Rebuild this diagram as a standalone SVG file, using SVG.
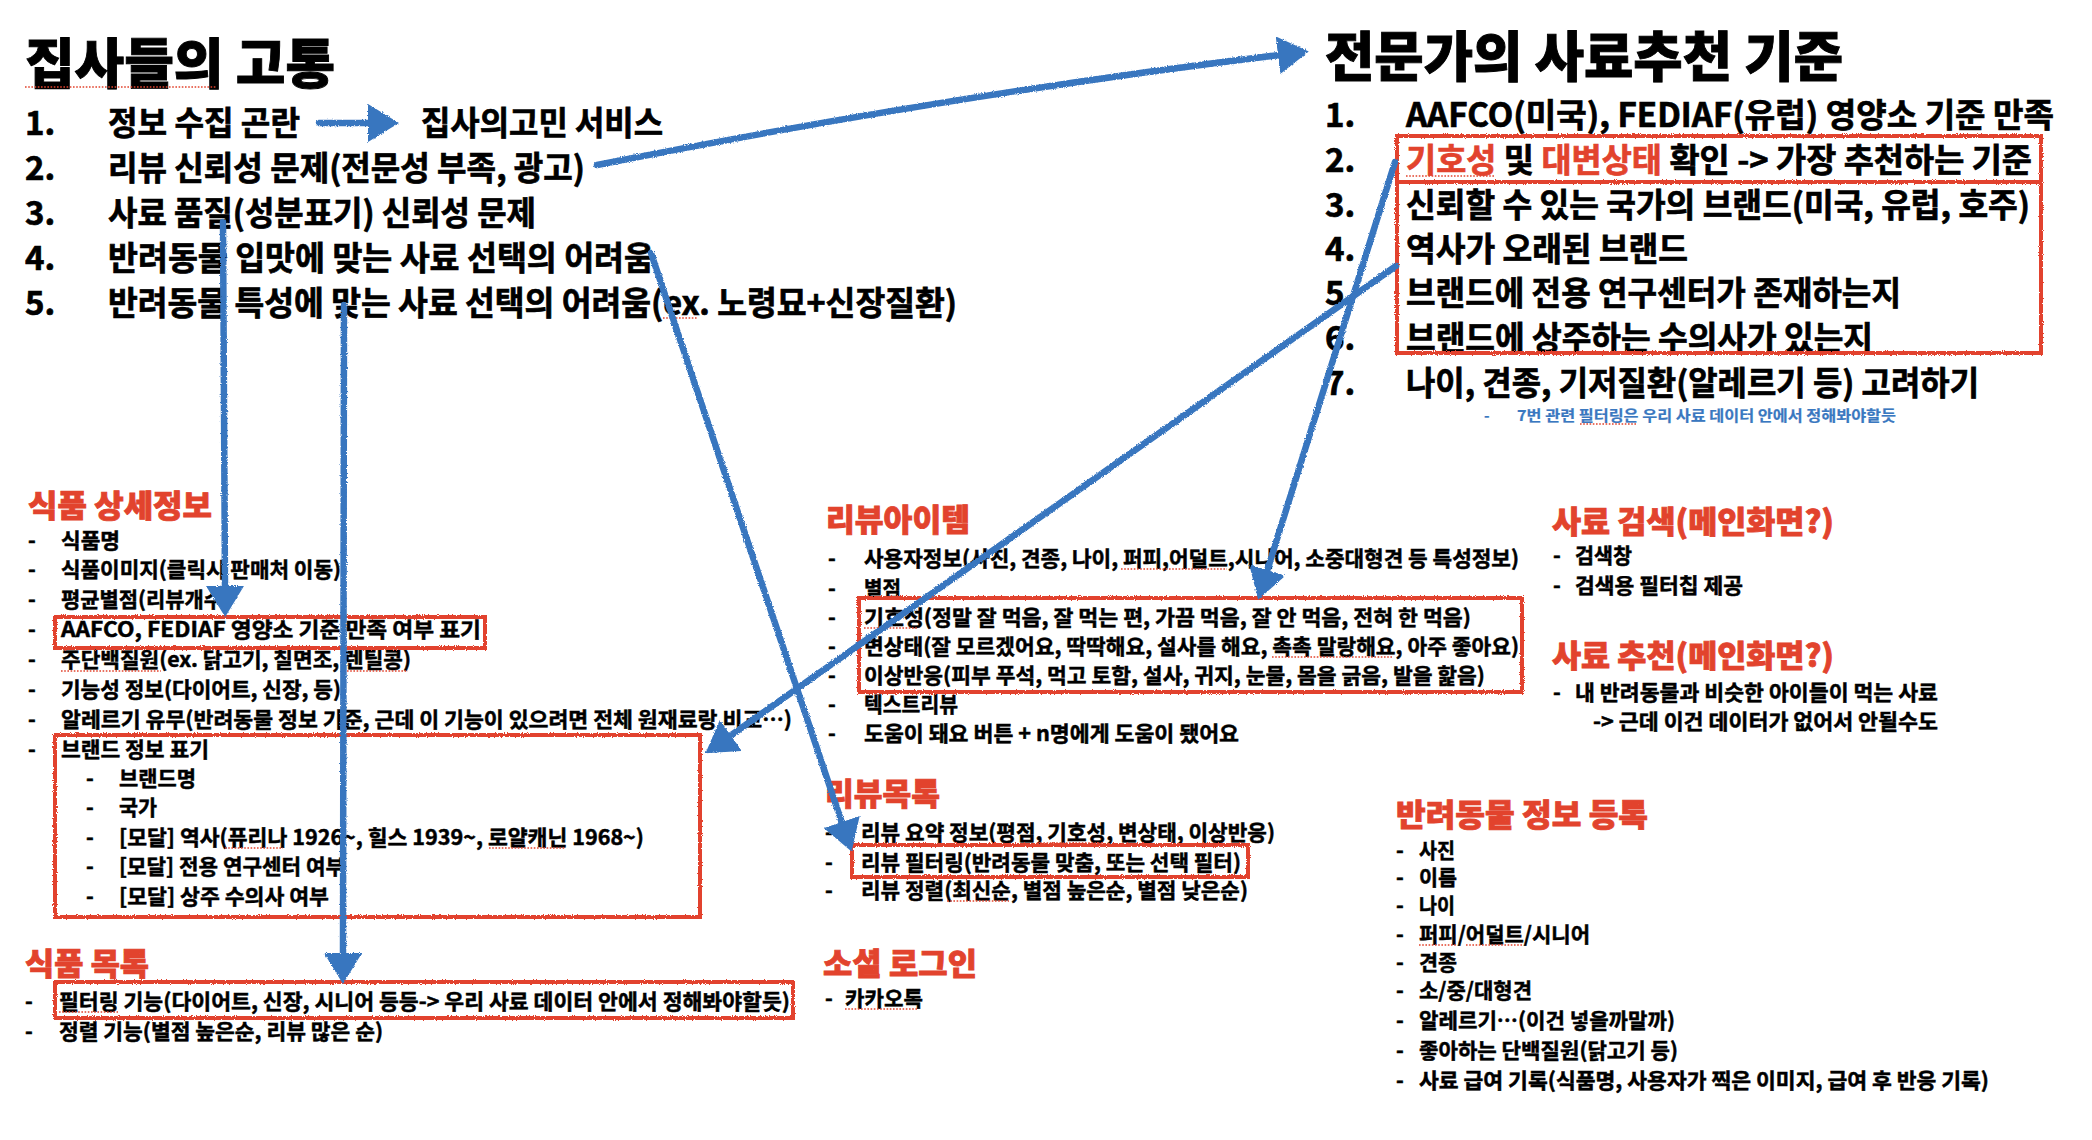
<svg xmlns="http://www.w3.org/2000/svg" width="2092" height="1140" viewBox="0 0 2092 1140">
<style>
text { font-family: "Noto Sans CJK KR", "Noto Sans", sans-serif; font-weight: 700; fill: #000; stroke: #000; stroke-width: 0.5; }
.title { font-size: 54px; font-weight: 900; stroke-width: 0.9; }
.lg { font-size: 33px; stroke-width: 0.7; }
.h { font-size: 31px; font-weight: 900; fill: #e2432d; stroke: #e2432d; stroke-width: 0.8; }
.it { font-size: 21px; }
.red { fill: #e2432d; stroke: #e2432d; }
.note { font-size: 15px; fill: #3a78c0; stroke: #3a78c0; stroke-width: 0.2; }
.box { fill: none; stroke: #e2432d; stroke-width: 4; filter: url(#rough); }
.arrow { fill: none; stroke: #3876bf; stroke-width: 6.5; stroke-linecap: round; marker-end: url(#ah); }
.sq { stroke: #e2432d; stroke-width: 1.6; stroke-dasharray: 1.6 1.6; fill: none; }
</style>
<defs>
<filter id="rough" filterUnits="userSpaceOnUse" x="0" y="0" width="2092" height="1140">
<feTurbulence type="fractalNoise" baseFrequency="0.9" numOctaves="2" seed="4" result="n"/>
<feDisplacementMap in="SourceGraphic" in2="n" scale="3" xChannelSelector="R" yChannelSelector="G"/>
</filter>
<marker id="ah" viewBox="0 0 31 38" refX="1" refY="19" markerWidth="31" markerHeight="38" markerUnits="userSpaceOnUse" orient="auto">
<path d="M0,0 L31,19 L0,38 z" fill="#3876bf"/>
</marker>
</defs>
<rect width="2092" height="1140" fill="#fff"/>

<g id="pain-points">
<text class="title" x="25" y="84" textLength="310" lengthAdjust="spacingAndGlyphs">집사들의 고통</text>
<text class="lg" x="25" y="135">1.</text>
<text class="lg" x="108" y="135" textLength="192" lengthAdjust="spacingAndGlyphs">정보 수집 곤란</text>
<text class="lg" x="25" y="180">2.</text>
<text class="lg" x="108" y="180" textLength="477" lengthAdjust="spacingAndGlyphs">리뷰 신뢰성 문제(전문성 부족, 광고)</text>
<text class="lg" x="25" y="225">3.</text>
<text class="lg" x="108" y="225" textLength="428" lengthAdjust="spacingAndGlyphs">사료 품질(성분표기) 신뢰성 문제</text>
<text class="lg" x="25" y="270">4.</text>
<text class="lg" x="108" y="270" textLength="546" lengthAdjust="spacingAndGlyphs">반려동물 입맛에 맞는 사료 선택의 어려움</text>
<text class="lg" x="25" y="315">5.</text>
<text class="lg" x="108" y="315" textLength="849" lengthAdjust="spacingAndGlyphs">반려동물 특성에 맞는 사료 선택의 어려움(ex. 노령묘+신장질환)</text>
</g>

<g id="service">
<text class="lg" x="421" y="135" textLength="242" lengthAdjust="spacingAndGlyphs">집사의고민 서비스</text>
</g>

<g id="expert-criteria">
<text class="title" x="1325" y="77" textLength="518" lengthAdjust="spacingAndGlyphs">전문가의 사료추천 기준</text>
<text class="lg" x="1325" y="127">1.</text>
<text class="lg" x="1406" y="127" textLength="648" lengthAdjust="spacingAndGlyphs">AAFCO(미국), FEDIAF(유럽) 영양소 기준 만족</text>
<text class="lg" x="1325" y="172">2.</text>
<text class="lg" x="1406" y="172" textLength="626" lengthAdjust="spacingAndGlyphs"><tspan class="red">기호성</tspan> 및 <tspan class="red">대변상태</tspan> 확인 -&gt; 가장 추천하는 기준</text>
<text class="lg" x="1325" y="217">3.</text>
<text class="lg" x="1406" y="217" textLength="624" lengthAdjust="spacingAndGlyphs">신뢰할 수 있는 국가의 브랜드(미국, 유럽, 호주)</text>
<text class="lg" x="1325" y="261">4.</text>
<text class="lg" x="1406" y="261" textLength="282" lengthAdjust="spacingAndGlyphs">역사가 오래된 브랜드</text>
<text class="lg" x="1325" y="305">5.</text>
<text class="lg" x="1406" y="305" textLength="495" lengthAdjust="spacingAndGlyphs">브랜드에 전용 연구센터가 존재하는지</text>
<text class="lg" x="1325" y="350">6.</text>
<text class="lg" x="1406" y="350" textLength="467" lengthAdjust="spacingAndGlyphs">브랜드에 상주하는 수의사가 있는지</text>
<text class="lg" x="1325" y="395">7.</text>
<text class="lg" x="1406" y="395" textLength="573" lengthAdjust="spacingAndGlyphs">나이, 견종, 기저질환(알레르기 등) 고려하기</text>
<text class="note" x="1484" y="421">-</text>
<text class="note" x="1517" y="421" textLength="379" lengthAdjust="spacingAndGlyphs">7번 관련 필터링은 우리 사료 데이터 안에서 정해봐야할듯</text>
<rect class="box" x="1397" y="136" width="644" height="46"/>
<rect class="box" x="1397" y="182" width="644" height="171"/>
</g>

<g id="food-detail">
<text class="h" x="28" y="517" textLength="184" lengthAdjust="spacingAndGlyphs">식품 상세정보</text>
<text class="it" x="28" y="548">-</text>
<text class="it" x="61" y="548" textLength="59" lengthAdjust="spacingAndGlyphs">식품명</text>
<text class="it" x="28" y="577">-</text>
<text class="it" x="61" y="577" textLength="280" lengthAdjust="spacingAndGlyphs">식품이미지(클릭시 판매처 이동)</text>
<text class="it" x="28" y="607">-</text>
<text class="it" x="61" y="607" textLength="170" lengthAdjust="spacingAndGlyphs">평균별점(리뷰개수)</text>
<text class="it" x="28" y="637">-</text>
<text class="it" x="61" y="637" textLength="420" lengthAdjust="spacingAndGlyphs">AAFCO, FEDIAF 영양소 기준 만족 여부 표기</text>
<text class="it" x="28" y="667">-</text>
<text class="it" x="61" y="667" textLength="350" lengthAdjust="spacingAndGlyphs">주단백질원(ex. 닭고기, 칠면조, 렌틸콩)</text>
<text class="it" x="28" y="697">-</text>
<text class="it" x="61" y="697" textLength="280" lengthAdjust="spacingAndGlyphs">기능성 정보(다이어트, 신장, 등)</text>
<text class="it" x="28" y="727">-</text>
<text class="it" x="61" y="727" textLength="731" lengthAdjust="spacingAndGlyphs">알레르기 유무(반려동물 정보 기준, 근데 이 기능이 있으려면 전체 원재료랑 비교…)</text>
<text class="it" x="28" y="757">-</text>
<text class="it" x="61" y="757" textLength="148" lengthAdjust="spacingAndGlyphs">브랜드 정보 표기</text>
<text class="it" x="86" y="786">-</text>
<text class="it" x="119" y="786" textLength="77" lengthAdjust="spacingAndGlyphs">브랜드명</text>
<text class="it" x="86" y="815">-</text>
<text class="it" x="119" y="815" textLength="38" lengthAdjust="spacingAndGlyphs">국가</text>
<text class="it" x="86" y="845">-</text>
<text class="it" x="119" y="845" textLength="525" lengthAdjust="spacingAndGlyphs">[모달] 역사(퓨리나 1926~, 힐스 1939~, 로얄캐닌 1968~)</text>
<text class="it" x="86" y="874">-</text>
<text class="it" x="119" y="874" textLength="226" lengthAdjust="spacingAndGlyphs">[모달] 전용 연구센터 여부</text>
<text class="it" x="86" y="904">-</text>
<text class="it" x="119" y="904" textLength="210" lengthAdjust="spacingAndGlyphs">[모달] 상주 수의사 여부</text>
<rect class="box" x="55" y="617" width="430" height="31"/>
<rect class="box" x="55" y="735" width="645" height="182"/>
</g>

<g id="food-list">
<text class="h" x="25" y="975" textLength="124" lengthAdjust="spacingAndGlyphs">식품 목록</text>
<text class="it" x="25" y="1009">-</text>
<text class="it" x="59" y="1009" textLength="731" lengthAdjust="spacingAndGlyphs">필터링 기능(다이어트, 신장, 시니어 등등-&gt; 우리 사료 데이터 안에서 정해봐야할듯)</text>
<text class="it" x="25" y="1039">-</text>
<text class="it" x="59" y="1039" textLength="324" lengthAdjust="spacingAndGlyphs">정렬 기능(별점 높은순, 리뷰 많은 순)</text>
<rect class="box" x="55" y="982" width="738" height="36"/>
</g>

<g id="review-item">
<text class="h" x="826" y="531" textLength="144" lengthAdjust="spacingAndGlyphs">리뷰아이템</text>
<text class="it" x="828" y="566">-</text>
<text class="it" x="864" y="566" textLength="655" lengthAdjust="spacingAndGlyphs">사용자정보(사진, 견종, 나이, 퍼피,어덜트,시니어, 소중대형견 등 특성정보)</text>
<text class="it" x="828" y="596">-</text>
<text class="it" x="864" y="596" textLength="37" lengthAdjust="spacingAndGlyphs">별점</text>
<text class="it" x="828" y="625">-</text>
<text class="it" x="864" y="625" textLength="607" lengthAdjust="spacingAndGlyphs">기호성(정말 잘 먹음, 잘 먹는 편, 가끔 먹음, 잘 안 먹음, 전혀 한 먹음)</text>
<text class="it" x="828" y="654">-</text>
<text class="it" x="864" y="654" textLength="655" lengthAdjust="spacingAndGlyphs">변상태(잘 모르겠어요, 딱딱해요, 설사를 해요, 촉촉 말랑해요, 아주 좋아요)</text>
<text class="it" x="828" y="683">-</text>
<text class="it" x="864" y="683" textLength="621" lengthAdjust="spacingAndGlyphs">이상반응(피부 푸석, 먹고 토함, 설사, 귀지, 눈물, 몸을 긁음, 발을 핥음)</text>
<text class="it" x="828" y="712">-</text>
<text class="it" x="864" y="712" textLength="94" lengthAdjust="spacingAndGlyphs">텍스트리뷰</text>
<text class="it" x="828" y="741">-</text>
<text class="it" x="864" y="741" textLength="375" lengthAdjust="spacingAndGlyphs">도움이 돼요 버튼 + n명에게 도움이 됐어요</text>
<rect class="box" x="859" y="598" width="663" height="94"/>
</g>

<g id="review-list">
<text class="h" x="825" y="805" textLength="115" lengthAdjust="spacingAndGlyphs">리뷰목록</text>
<text class="it" x="825" y="840">-</text>
<text class="it" x="861" y="840" textLength="414" lengthAdjust="spacingAndGlyphs">리뷰 요약 정보(평점, 기호성, 변상태, 이상반응)</text>
<text class="it" x="825" y="870">-</text>
<text class="it" x="861" y="870" textLength="380" lengthAdjust="spacingAndGlyphs">리뷰 필터링(반려동물 맞춤, 또는 선택 필터)</text>
<text class="it" x="825" y="898">-</text>
<text class="it" x="861" y="898" textLength="387" lengthAdjust="spacingAndGlyphs">리뷰 정렬(최신순, 별점 높은순, 별점 낮은순)</text>
<rect class="box" x="852" y="845" width="396" height="32"/>
</g>

<g id="social-login">
<text class="h" x="823" y="975" textLength="154" lengthAdjust="spacingAndGlyphs">소셜 로그인</text>
<text class="it" x="825" y="1006">-</text>
<text class="it" x="845" y="1006" textLength="78" lengthAdjust="spacingAndGlyphs">카카오톡</text>
</g>

<g id="food-search">
<text class="h" x="1552" y="533" textLength="282" lengthAdjust="spacingAndGlyphs">사료 검색(메인화면?)</text>
<text class="it" x="1553" y="563">-</text>
<text class="it" x="1575" y="563" textLength="57" lengthAdjust="spacingAndGlyphs">검색창</text>
<text class="it" x="1553" y="593">-</text>
<text class="it" x="1575" y="593" textLength="168" lengthAdjust="spacingAndGlyphs">검색용 필터칩 제공</text>
</g>

<g id="food-recommend">
<text class="h" x="1552" y="667" textLength="282" lengthAdjust="spacingAndGlyphs">사료 추천(메인화면?)</text>
<text class="it" x="1553" y="700">-</text>
<text class="it" x="1575" y="700" textLength="363" lengthAdjust="spacingAndGlyphs">내 반려동물과 비슷한 아이들이 먹는 사료</text>
<text class="it" x="1593" y="729" textLength="345" lengthAdjust="spacingAndGlyphs">-&gt; 근데 이건 데이터가 없어서 안될수도</text>
</g>

<g id="pet-register">
<text class="h" x="1396" y="826" textLength="252" lengthAdjust="spacingAndGlyphs">반려동물 정보 등록</text>
<text class="it" x="1396" y="858">-</text>
<text class="it" x="1419" y="858" textLength="36" lengthAdjust="spacingAndGlyphs">사진</text>
<text class="it" x="1396" y="885">-</text>
<text class="it" x="1419" y="885" textLength="38" lengthAdjust="spacingAndGlyphs">이름</text>
<text class="it" x="1396" y="913">-</text>
<text class="it" x="1419" y="913" textLength="36" lengthAdjust="spacingAndGlyphs">나이</text>
<text class="it" x="1396" y="942">-</text>
<text class="it" x="1419" y="942" textLength="171" lengthAdjust="spacingAndGlyphs">퍼피/어덜트/시니어</text>
<text class="it" x="1396" y="970">-</text>
<text class="it" x="1419" y="970" textLength="38" lengthAdjust="spacingAndGlyphs">견종</text>
<text class="it" x="1396" y="998">-</text>
<text class="it" x="1419" y="998" textLength="113" lengthAdjust="spacingAndGlyphs">소/중/대형견</text>
<text class="it" x="1396" y="1028">-</text>
<text class="it" x="1419" y="1028" textLength="256" lengthAdjust="spacingAndGlyphs">알레르기…(이건 넣을까말까)</text>
<text class="it" x="1396" y="1058">-</text>
<text class="it" x="1419" y="1058" textLength="259" lengthAdjust="spacingAndGlyphs">좋아하는 단백질원(닭고기 등)</text>
<text class="it" x="1396" y="1088">-</text>
<text class="it" x="1419" y="1088" textLength="570" lengthAdjust="spacingAndGlyphs">사료 급여 기록(식품명, 사용자가 찍은 이미지, 급여 후 반응 기록)</text>
</g>

<g id="spellcheck-marks">
<path class="sq" d="M25,87 H217 M663,318 H698 M1406,176 H1494 M1580,424 H1636 M61,671 H161 M347,671 H408 M225,848 H283 M489,848 H565 M59,1012 H118 M1121,569 H1227 M864,628 H918 M1272,657 H1392 M1037,843 H1103 M947,901 H1009 M845,1009 H917 M1419,945 H1457 M1466,945 H1523"/>
</g>

<g id="connectors" filter="url(#rough)">
<path class="arrow" d="M319,123 L369,123"/>
<path class="arrow" d="M597,165 Q950,95 1279,55"/>
<path class="arrow" d="M223,222 L225,587"/>
<path class="arrow" d="M344,305 L343,954"/>
<path class="arrow" d="M651,253 L842,823"/>
<path class="arrow" d="M1396,266 L730,736"/>
<path class="arrow" d="M1395,162 L1267,571"/>
</g>
</svg>
